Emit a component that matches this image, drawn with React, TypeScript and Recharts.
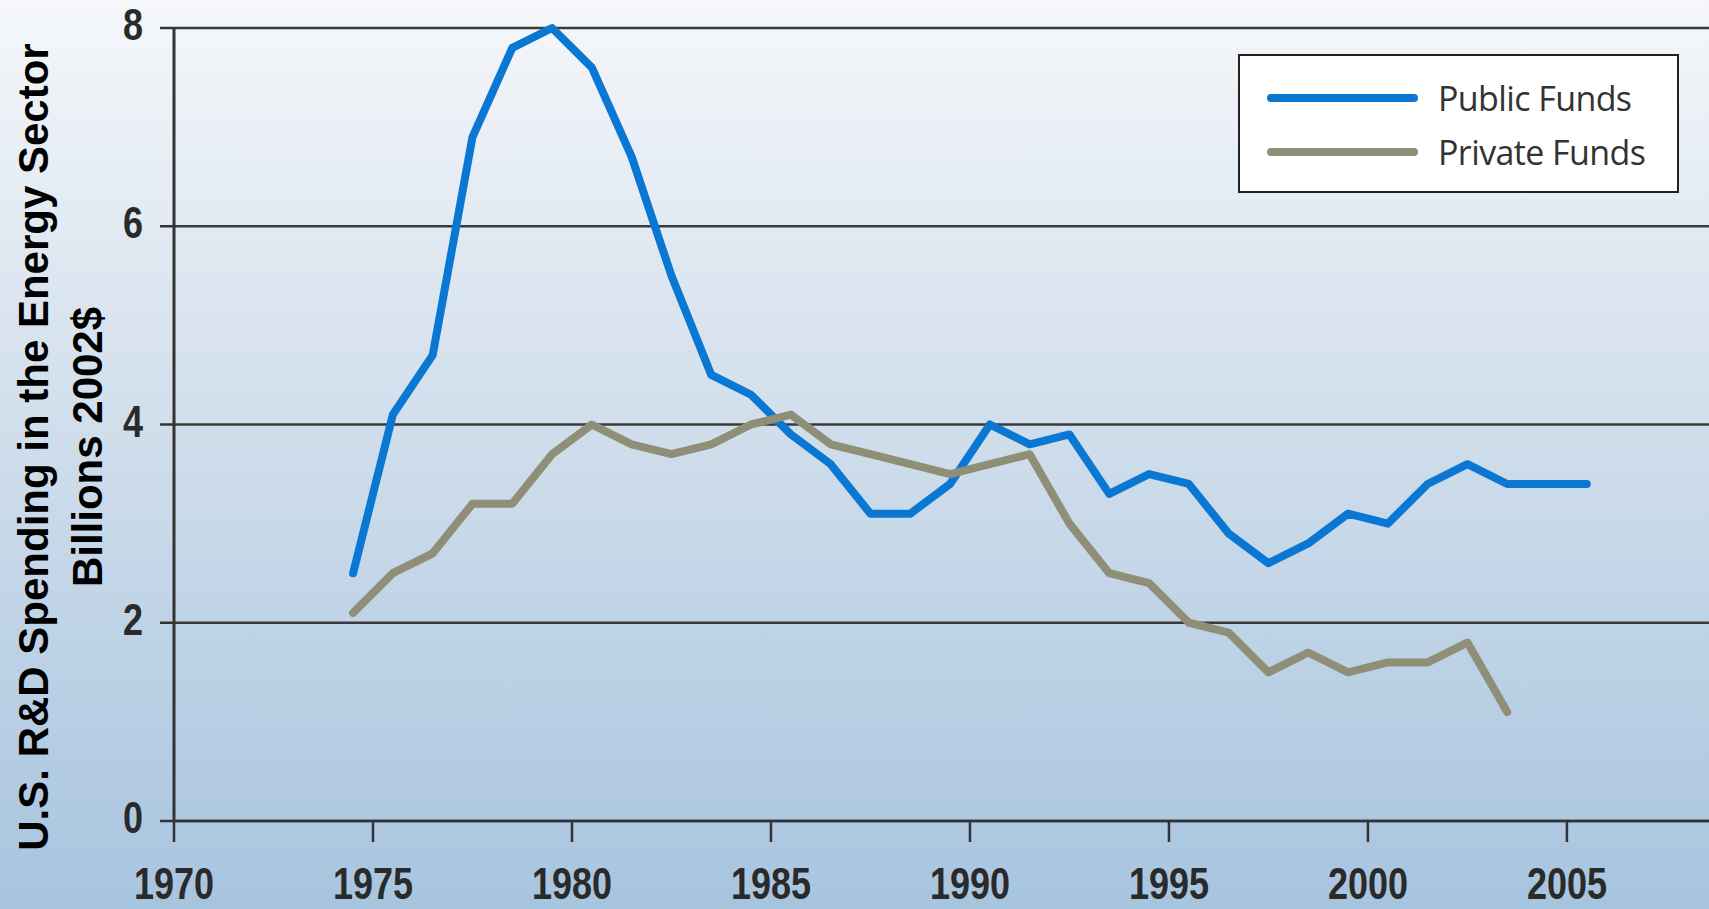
import React from 'react';
import { LineChart, Line, XAxis, YAxis, CartesianGrid, Legend } from 'recharts';

// fiscal years, plotted at mid-year
const YEARS = [
  1974, 1975, 1976, 1977, 1978, 1979, 1980, 1981, 1982, 1983, 1984, 1985, 1986, 1987, 1988, 1989,
  1990, 1991, 1992, 1993, 1994, 1995, 1996, 1997, 1998, 1999, 2000, 2001, 2002, 2003, 2004, 2005,
];

const PUBLIC_FUNDS = [
  2.5, 4.1, 4.7, 6.9, 7.8, 8.0, 7.6, 6.7, 5.5, 4.5, 4.3, 3.9, 3.6, 3.1, 3.1, 3.4,
  4.0, 3.8, 3.9, 3.3, 3.5, 3.4, 2.9, 2.6, 2.8, 3.1, 3.0, 3.4, 3.6, 3.4, 3.4, 3.4,
];

const PRIVATE_FUNDS = [
  2.1, 2.5, 2.7, 3.2, 3.2, 3.7, 4.0, 3.8, 3.7, 3.8, 4.0, 4.1, 3.8, 3.7, 3.6, 3.5,
  3.6, 3.7, 3.0, 2.5, 2.4, 2.0, 1.9, 1.5, 1.7, 1.5, 1.6, 1.6, 1.8, 1.1,
];

const SERIES_NAMES = ['Public Funds', 'Private Funds'];
const X_TICKS = [1970, 1975, 1980, 1985, 1990, 1995, 2000, 2005];
const Y_TICKS = [0, 2, 4, 6, 8];

const PUBLIC_COLOR = '#0a77d3';
const PRIVATE_COLOR = '#8f8e76';
const DARK = '#333333';

const data = YEARS.map((y, i) => ({
  year: y + 0.5,
  publicFunds: PUBLIC_FUNDS[i],
  privateFunds: i < PRIVATE_FUNDS.length ? PRIVATE_FUNDS[i] : null,
}));

// condensed bold tick text (no narrow font installed, so squeeze it)
const CondensedTick = ({ x, y, payload, textAnchor, vertical }: any) => {
  const dy = vertical ? 12 : 35;
  return (
    <g transform={`translate(${x},${y + dy}) scale(0.8,1)`}>
      <text
        x={0}
        y={0}
        textAnchor={textAnchor}
        fontFamily="'Liberation Sans', Arial, sans-serif"
        fontWeight="bold"
        fontSize={45}
        fill="#2a2a2a"
      >
        {payload.value}
      </text>
    </g>
  );
};

const AxisTitle = () => (
  <g fontFamily="'Liberation Sans', Arial, sans-serif" fontWeight="bold" fontSize={42} fill="#000">
    <text x={33} y={447} transform="rotate(-90 33 447)" textAnchor="middle" dominantBaseline="central">
      U.S. R&amp;D Spending in the Energy Sector
    </text>
    <text x={87} y={447} transform="rotate(-90 87 447)" textAnchor="middle" dominantBaseline="central">
      Billions 2002$
    </text>
  </g>
);

const LegendBox = ({ payload }: any) => {
  const items = [...(payload || [])].sort(
    (a: any, b: any) => SERIES_NAMES.indexOf(a.value) - SERIES_NAMES.indexOf(b.value)
  );
  return (
    <div
      style={{
        width: 441,
        height: 139,
        border: '2px solid #222',
        background: '#fff',
        boxSizing: 'border-box',
        paddingTop: 15,
      }}
    >
      {items.map((entry: any) => (
        <div key={entry.value} style={{ display: 'flex', alignItems: 'center', height: 54 }}>
          <div style={{ width: 151, height: 8, borderRadius: 4, background: entry.color, marginLeft: 27, marginRight: 20 }} />
          <span style={{ fontFamily: "'Open Sans', sans-serif", fontSize: 34, color: '#333', letterSpacing: -0.6 }}>
            {entry.value}
          </span>
        </div>
      ))}
    </div>
  );
};

export default function App() {
  return (
    <div
      style={{
        position: 'fixed',
        left: 0,
        top: 0,
        width: 1709,
        height: 909,
        background: 'linear-gradient(to bottom, #f5f7fa 0%, #d2dfec 45%, #a7c4df 100%)',
        overflow: 'hidden',
      }}
    >
      <LineChart width={1709} height={909} data={data} margin={{ top: 28, right: 0, bottom: 0, left: 0 }}>
        <CartesianGrid horizontal vertical={false} stroke="#3a3a3a" strokeWidth={2.5} />
        <XAxis
          dataKey="year"
          type="number"
          domain={[1970, 2008.57]}
          ticks={X_TICKS}
          allowDataOverflow
          height={88}
          tickSize={21}
          tickMargin={22}
          axisLine={{ stroke: DARK, strokeWidth: 2.5 }}
          tickLine={{ stroke: DARK, strokeWidth: 2.5 }}
          tick={<CondensedTick />}
        />
        <YAxis
          type="number"
          domain={[0, 8]}
          ticks={Y_TICKS}
          width={174}
          tickSize={14}
          tickMargin={17}
          axisLine={{ stroke: DARK, strokeWidth: 3 }}
          tickLine={{ stroke: DARK, strokeWidth: 2.5 }}
          tick={<CondensedTick vertical />}
          label={{ content: <AxisTitle /> }}
        />
        <Legend
          layout="vertical"
          verticalAlign="middle"
          align="center"
          wrapperStyle={{ top: 54, left: 1238, width: 'auto' }}
          content={<LegendBox />}
        />
        <Line
          name="Public Funds"
          dataKey="publicFunds"
          type="linear"
          stroke={PUBLIC_COLOR}
          strokeWidth={8}
          strokeLinejoin="round"
          strokeLinecap="round"
          dot={false}
          activeDot={false}
          isAnimationActive={false}
        />
        <Line
          name="Private Funds"
          dataKey="privateFunds"
          type="linear"
          stroke={PRIVATE_COLOR}
          strokeWidth={8}
          strokeLinejoin="round"
          strokeLinecap="round"
          dot={false}
          activeDot={false}
          isAnimationActive={false}
          connectNulls={false}
        />
      </LineChart>
    </div>
  );
}
